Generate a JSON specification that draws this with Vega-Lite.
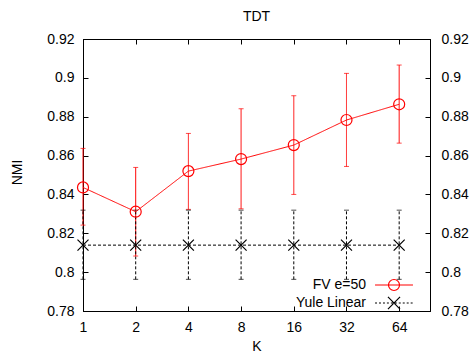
{
  "$schema": "https://vega.github.io/schema/vega-lite/v6.json",
  "width": 347,
  "height": 272,
  "autosize": {"type": "none"},
  "padding": {"left": 83, "top": 39, "right": 42, "bottom": 41},
  "background": "#ffffff",
  "title": {"text": "TDT", "fontSize": 14, "fontWeight": "normal", "font": "Liberation Sans", "color": "#000000", "anchor": "middle", "offset": 8},
  "data": {"values": [
    {"series": "FV e=50", "K": 1, "y": 0.8436, "lo": 0.8242, "hi": 0.8637},
    {"series": "FV e=50", "K": 2, "y": 0.8311, "lo": 0.8083, "hi": 0.8539},
    {"series": "FV e=50", "K": 4, "y": 0.8520, "lo": 0.8323, "hi": 0.8714},
    {"series": "FV e=50", "K": 8, "y": 0.8582, "lo": 0.8326, "hi": 0.8841},
    {"series": "FV e=50", "K": 16, "y": 0.8654, "lo": 0.8400, "hi": 0.8908},
    {"series": "FV e=50", "K": 32, "y": 0.8783, "lo": 0.8544, "hi": 0.9023},
    {"series": "FV e=50", "K": 64, "y": 0.8864, "lo": 0.8664, "hi": 0.9066},
    {"series": "Yule Linear", "K": 1, "y": 0.8139, "lo": 0.7963, "hi": 0.8319},
    {"series": "Yule Linear", "K": 2, "y": 0.8139, "lo": 0.7963, "hi": 0.8319},
    {"series": "Yule Linear", "K": 4, "y": 0.8139, "lo": 0.7963, "hi": 0.8319},
    {"series": "Yule Linear", "K": 8, "y": 0.8139, "lo": 0.7963, "hi": 0.8319},
    {"series": "Yule Linear", "K": 16, "y": 0.8139, "lo": 0.7963, "hi": 0.8319},
    {"series": "Yule Linear", "K": 32, "y": 0.8139, "lo": 0.7963, "hi": 0.8319},
    {"series": "Yule Linear", "K": 64, "y": 0.8139, "lo": 0.7963, "hi": 0.8319}
  ]},
  "config": {
    "view": {"stroke": "#000000", "strokeWidth": 1},
    "font": "Liberation Sans",
    "range": {"category": ["#ff0000", "#000000"]},
    "axis": {
      "grid": false,
      "domainColor": "#000000",
      "domainWidth": 1,
      "tickColor": "#000000",
      "tickSize": -5,
      "labelFont": "Liberation Sans",
      "labelFontSize": 14,
      "labelColor": "#000000",
      "titleFont": "Liberation Sans",
      "titleFontSize": 14,
      "titleFontWeight": "normal",
      "titleColor": "#000000"
    }
  },
  "layer": [
    {
      "mark": {"type": "rule", "strokeWidth": 1},
      "encoding": {
        "x": {"field": "K", "type": "quantitative",
              "scale": {"type": "log", "base": 2, "domain": [1, 96], "nice": false},
              "axis": {"orient": "bottom", "values": [1, 2, 4, 8, 16, 32, 64], "format": "d", "labelPadding": 14, "labelFlush": false, "title": "K", "titleX": 173.5, "titleY": 35, "titleBaseline": "middle", "titleAlign": "center"}},
        "y": {"field": "lo", "type": "quantitative",
              "scale": {"domain": [0.78, 0.92], "nice": false, "zero": false},
              "axis": {"orient": "left", "values": [0.78, 0.8, 0.82, 0.84, 0.86, 0.88, 0.9, 0.92], "format": ".2~f", "labelPadding": 14, "labelFlush": false, "title": "NMI", "titleX": -66, "titleY": 133, "titleBaseline": "middle", "titleAlign": "center", "titleAngle": -90}},
        "y2": {"field": "hi"},
        "color": {"field": "series", "type": "nominal", "legend": null},
        "strokeDash": {"field": "series", "type": "nominal", "scale": {"domain": ["FV e=50", "Yule Linear"], "range": [[1, 0], [3, 2]]}, "legend": null}
      }
    },
    {
      "mark": {"type": "tick", "orient": "horizontal", "size": 5, "thickness": 1},
      "encoding": {
        "x": {"field": "K", "type": "quantitative",
              "axis": {"orient": "top", "values": [1, 2, 4, 8, 16, 32, 64], "labels": false, "title": null}},
        "y": {"field": "lo", "type": "quantitative",
              "axis": {"orient": "right", "values": [0.78, 0.8, 0.82, 0.84, 0.86, 0.88, 0.9, 0.92], "format": ".2~f", "labelPadding": 16, "labelFlush": false, "title": null}},
        "color": {"field": "series", "type": "nominal", "legend": null}
      }
    },
    {
      "mark": {"type": "tick", "orient": "horizontal", "size": 5, "thickness": 1},
      "encoding": {
        "x": {"field": "K", "type": "quantitative", "axis": null},
        "y": {"field": "hi", "type": "quantitative", "axis": null},
        "color": {"field": "series", "type": "nominal", "legend": null}
      }
    },
    {
      "mark": {"type": "line", "strokeWidth": 1},
      "encoding": {
        "x": {"field": "K", "type": "quantitative", "axis": null},
        "y": {"field": "y", "type": "quantitative", "axis": null},
        "color": {"field": "series", "type": "nominal", "legend": null},
        "strokeDash": {"field": "series", "type": "nominal", "legend": null}
      }
    },
    {
      "mark": {"type": "point", "filled": false, "strokeWidth": 1.2, "size": 121, "opacity": 1},
      "encoding": {
        "x": {"field": "K", "type": "quantitative", "axis": null},
        "y": {"field": "y", "type": "quantitative", "axis": null},
        "color": {"field": "series", "type": "nominal", "legend": null},
        "shape": {"field": "series", "type": "nominal", "legend": null,
                  "scale": {"domain": ["FV e=50", "Yule Linear"], "range": ["circle", "M-1,-1L1,1M-1,1L1,-1"]}}
      }
    },
    {
      "mark": {"type": "point", "filled": false, "strokeWidth": 1.2, "size": 121, "opacity": 0},
      "encoding": {
        "x": {"field": "K", "type": "quantitative", "axis": null},
        "y": {"field": "y", "type": "quantitative", "axis": null},
        "color": {"field": "series", "type": "nominal",
                  "scale": {"domain": ["FV e=50", "Yule Linear"], "range": ["#ff0000", "#000000"]},
                  "legend": {
                    "orient": "none", "legendX": 304, "legendY": 239, "title": null, "padding": 0,
                    "labelAlign": "right", "labelOffset": -35, "labelFont": "Liberation Sans", "labelFontSize": 14, "labelColor": "#000000",
                    "symbolSize": 121, "symbolStrokeWidth": 1.2, "symbolOpacity": 1, "symbolFillColor": "transparent", "rowPadding": 1
                  }},
        "shape": {"field": "series", "type": "nominal",
                  "scale": {"domain": ["FV e=50", "Yule Linear"], "range": [
                    "M-3.45,0L3.45,0M-1,0A1,1 0 1,0 1,0A1,1 0 1,0 -1,0",
                    "M-3.45,0L-3.09,0M-2.73,0L-2.37,0M-2.01,0L-1.65,0M-1.29,0L-0.93,0M-0.57,0L-0.21,0M0.15,0L0.51,0M0.87,0L1.23,0M1.59,0L1.95,0M2.31,0L2.67,0M3.03,0L3.39,0M-1.1,-1.1L1.1,1.1M-1.1,1.1L1.1,-1.1"
                  ]},
                  "legend": {
                    "orient": "none", "legendX": 304, "legendY": 239, "title": null, "padding": 0,
                    "labelAlign": "right", "labelOffset": -35, "labelFont": "Liberation Sans", "labelFontSize": 14, "labelColor": "#000000",
                    "symbolSize": 121, "symbolStrokeWidth": 1.2, "symbolOpacity": 1, "symbolFillColor": "transparent", "rowPadding": 1
                  }}
      }
    }
  ],
  "resolve": {"axis": {"x": "independent", "y": "independent"}, "scale": {"shape": "independent", "color": "independent"}}
}
